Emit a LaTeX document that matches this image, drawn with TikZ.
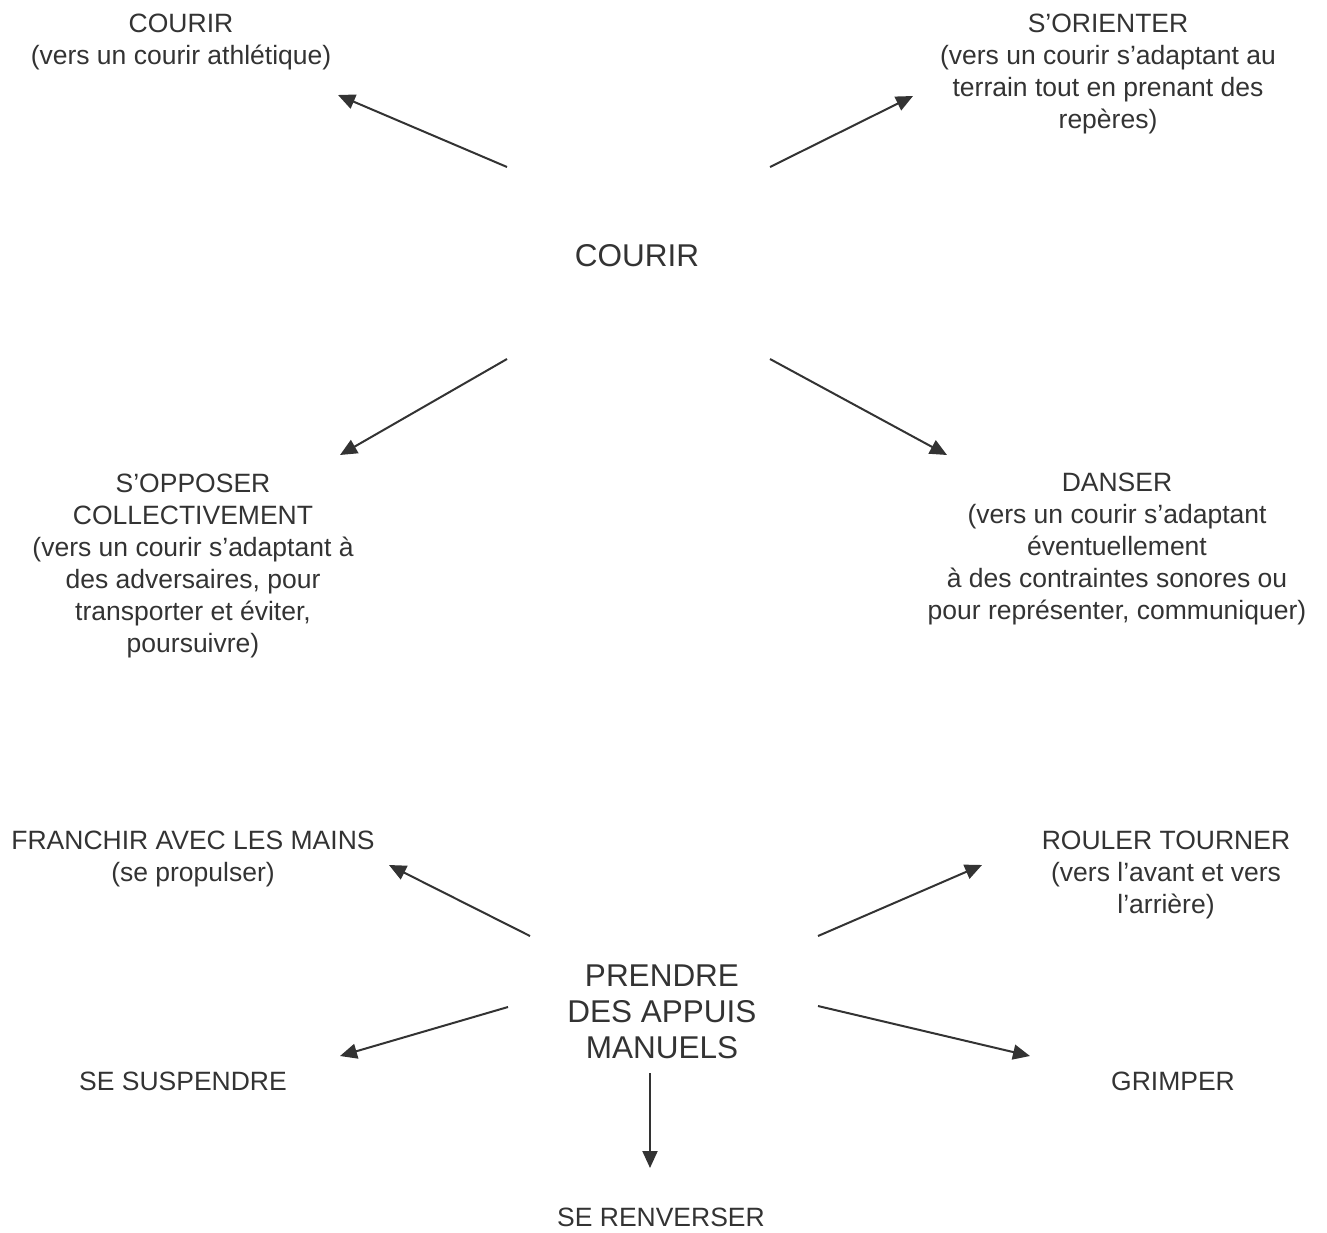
\documentclass[tikz,border=0pt]{standalone}
\usepackage{fontspec}
\setmainfont{Liberation Sans}
\usepackage{xcolor}
\usepackage{tikz}
\usetikzlibrary{arrows.meta}

\definecolor{txtgray}{HTML}{333333}
\definecolor{arrowgray}{HTML}{333333}

\tikzset{
  lbl/.style={align=center, inner sep=0pt, anchor=north, text=txtgray,
    font=\fontsize{26.5}{32}\selectfont},
  biglbl/.style={lbl, font=\fontsize{31.5}{36}\selectfont},
  fleche/.style={draw=arrowgray, line width=2pt,
    -{Triangle[length=17pt,width=15pt]}},
}

\begin{document}
\begin{tikzpicture}[x=1pt, y=-1pt]
  \useasboundingbox (0,0) rectangle (1327,1232);

  % courir
  \node[biglbl] (courir) at (637,244) {COURIR};
  \node[lbl] (athle) at (181,14) {COURIR\\(vers un courir athlétique)};
  \node[lbl] (orienter) at (1108,14) {S’ORIENTER\\(vers un courir s’adaptant au\\terrain tout en prenant des\\repères)};
  \node[lbl] (opposer) at (193,474) {S’OPPOSER\\COLLECTIVEMENT\\(vers un courir s’adaptant à\\des adversaires, pour\\transporter et éviter,\\poursuivre)};
  \node[lbl] (danser) at (1117,473) {DANSER\\(vers un courir s’adaptant\\éventuellement\\à des contraintes sonores ou\\pour représenter, communiquer)};

  % appuis manuels
  \node[biglbl] (appuis) at (662,965) {PRENDRE\\DES APPUIS\\MANUELS};
  \node[lbl] (franchir) at (193,831) {FRANCHIR AVEC LES MAINS\\(se propulser)};
  \node[lbl] (rouler) at (1166,831) {ROULER TOURNER\\(vers l’avant et vers\\l’arrière)};
  \node[lbl] (suspendre) at (183,1072) {SE SUSPENDRE};
  \node[lbl] (grimper) at (1173,1072) {GRIMPER};
  \node[lbl] (renverser) at (661,1208) {SE RENVERSER};

  % arrow ends
  \coordinate (c-nw) at (507,167);  \coordinate (athle-in) at (338,95);
  \coordinate (c-ne) at (770,167);  \coordinate (orienter-in) at (913,96);
  \coordinate (c-sw) at (507,359);  \coordinate (opposer-in) at (340,455);
  \coordinate (c-se) at (770,359);  \coordinate (danser-in) at (947,455);
  \coordinate (a-nw) at (530,936);  \coordinate (franchir-in) at (389,865);
  \coordinate (a-ne) at (818,936);  \coordinate (rouler-in) at (982,865);
  \coordinate (a-sw) at (508,1007); \coordinate (suspendre-in) at (340,1056);
  \coordinate (a-se) at (818,1006); \coordinate (grimper-in) at (1030,1056);
  \coordinate (a-s) at (650,1073);  \coordinate (renverser-in) at (650,1168);

  \foreach \s/\t in {c-nw/athle-in, c-ne/orienter-in, c-sw/opposer-in, c-se/danser-in,
      a-nw/franchir-in, a-ne/rouler-in, a-sw/suspendre-in, a-se/grimper-in, a-s/renverser-in}
    \draw[fleche] (\s) -- (\t);
\end{tikzpicture}
\end{document}
